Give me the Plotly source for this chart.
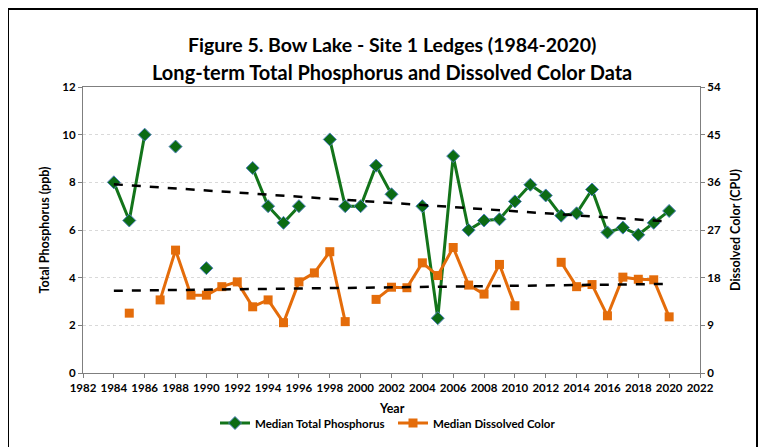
import numpy as np
import plotly.graph_objects as go

years = list(range(1984, 2021))
phosphorus = [8.0, 6.4, 10.0, None, 9.5, None, 4.4, None, None, 8.6,
              7.0, 6.3, 7.0, None, 9.8, 7.0, 7.0, 8.7, 7.5, None,
              7.0, 2.3, 9.1, 6.0, 6.4, 6.45, 7.2, 7.9, 7.45, 6.6,
              6.7, 7.7, 5.9, 6.1, 5.8, 6.3, 6.8]
color = [None, 11.3, None, 13.8, 23.2, 14.7, 14.7, 16.3, 17.2, 12.5,
         13.8, 9.5, 17.2, 18.9, 22.9, 9.7, None, 13.9, 16.2, 16.1,
         20.8, 18.4, 23.7, 16.6, 14.9, 20.5, 12.7, None, None, 20.9,
         16.3, 16.7, 10.8, 18.1, 17.7, 17.6, 10.6]

xticks = list(range(1982, 2023, 2))
left_ticks = [0, 2, 4, 6, 8, 10, 12]
right_ticks = [0, 9, 18, 27, 36, 45, 54]

title_lines = ["Figure 5. Bow Lake - Site 1 Ledges (1984-2020)",
               "Long-term Total Phosphorus and Dissolved Color Data"]

GREEN = "#13741a"
MGREEN = "#0c6b14"
ORANGE = "#e46c0a"
FONT = "Lato"

W, H = 758, 439
L, T, PW, PH = 75, 79, 617, 286


def trend(xs, ys):
    pts = [(x, y) for x, y in zip(xs, ys) if y is not None]
    px = np.array([p[0] for p in pts], float)
    py = np.array([p[1] for p in pts], float)
    m, b = np.polyfit(px, py, 1)
    ends = [xs[0], xs[-1]]
    return ends, [m * e + b for e in ends]


fig = go.Figure()
fig.add_trace(go.Scatter(
    x=years, y=phosphorus, mode="lines+markers", name="Median Total Phosphorus",
    line=dict(color=GREEN, width=3), connectgaps=False,
    marker=dict(symbol="diamond", size=10, color=MGREEN,
                line=dict(color="#4f81bd", width=1))))
fig.add_trace(go.Scatter(
    x=years, y=color, mode="lines+markers", name="Median Dissolved Color",
    line=dict(color=ORANGE, width=3), connectgaps=False,
    marker=dict(symbol="square", size=9, color=ORANGE), yaxis="y2"))

tx, ty = trend(years, phosphorus)
fig.add_trace(go.Scatter(x=tx, y=ty, mode="lines", showlegend=False,
                         line=dict(color="black", width=2.5, dash="dash")))
tx2, ty2 = trend(years, color)
fig.add_trace(go.Scatter(x=tx2, y=ty2, mode="lines", showlegend=False, yaxis="y2",
                         line=dict(color="black", width=2.5, dash="dash")))

tickfont = dict(family=FONT, size=11.5, color="black", weight="bold")
axtitle = dict(family=FONT, size=12.5, color="black", weight="bold")

fig.update_layout(
    width=W, height=H,
    margin=dict(l=L, r=W - L - PW, t=T, b=H - T - PH),
    paper_bgcolor="white", plot_bgcolor="white",
    xaxis=dict(range=[1982, 2022], tickvals=xticks, ticktext=[str(t) for t in xticks],
               showgrid=False, showline=True, linecolor="#7f7f7f", linewidth=1,
               mirror=True, ticks="outside", ticklen=4, tickcolor="#7f7f7f",
               tickfont=tickfont, zeroline=False, automargin=False),
    yaxis=dict(range=[0, 12], tickvals=left_ticks, showgrid=True,
               gridcolor="#d9d9d9", griddash="dot", gridwidth=1,
               showline=True, linecolor="#7f7f7f", linewidth=1,
               ticks="outside", ticklen=4, tickcolor="#7f7f7f",
               tickfont=tickfont, zeroline=False, automargin=False,
               title=dict(text="Total Phosphorus (ppb)", font=axtitle, standoff=9)),
    yaxis2=dict(range=[0, 54], tickvals=right_ticks, overlaying="y", side="right",
                showgrid=False, showline=True, linecolor="#7f7f7f", linewidth=1,
                ticks="outside", ticklen=4, tickcolor="#7f7f7f",
                tickfont=tickfont, zeroline=False, automargin=False,
                title=dict(text="Dissolved Color (CPU)", font=axtitle, standoff=11)),
    legend=dict(orientation="h", x=(393 - 8) / W, xanchor="center", xref="container",
                y=1 - (423 - 8) / H, yanchor="middle", yref="container",
                font=dict(family=FONT, size=11.5, color="black", weight="bold"),
                itemwidth=30, entrywidth=133),
    showlegend=True,
    annotations=[
        dict(text=title_lines[0], xref="paper", yref="paper", x=0.5,
             y=1 + (87 - 45) / PH, xanchor="center", yanchor="middle", showarrow=False,
             font=dict(family=FONT, size=19.5, color="black", weight="bold")),
        dict(text=title_lines[1], xref="paper", yref="paper", x=0.5,
             y=1 + (87 - 72) / PH, xanchor="center", yanchor="middle", showarrow=False,
             font=dict(family=FONT, size=20, color="black", weight="bold")),
        dict(text="Year", xref="paper", yref="paper", x=0.5,
             y=-(408 - 373) / PH, xanchor="center", yanchor="middle", showarrow=False,
             font=axtitle),
    ],
    shapes=[dict(type="rect", xref="paper", yref="paper",
                 x0=(0 - L) / PW, x1=(749 - L) / PW, y0=-0.35, y1=1 + (T - 1) / PH,
                 line=dict(color="black", width=2), layer="below")],
)

fig.write_html("out.html")
